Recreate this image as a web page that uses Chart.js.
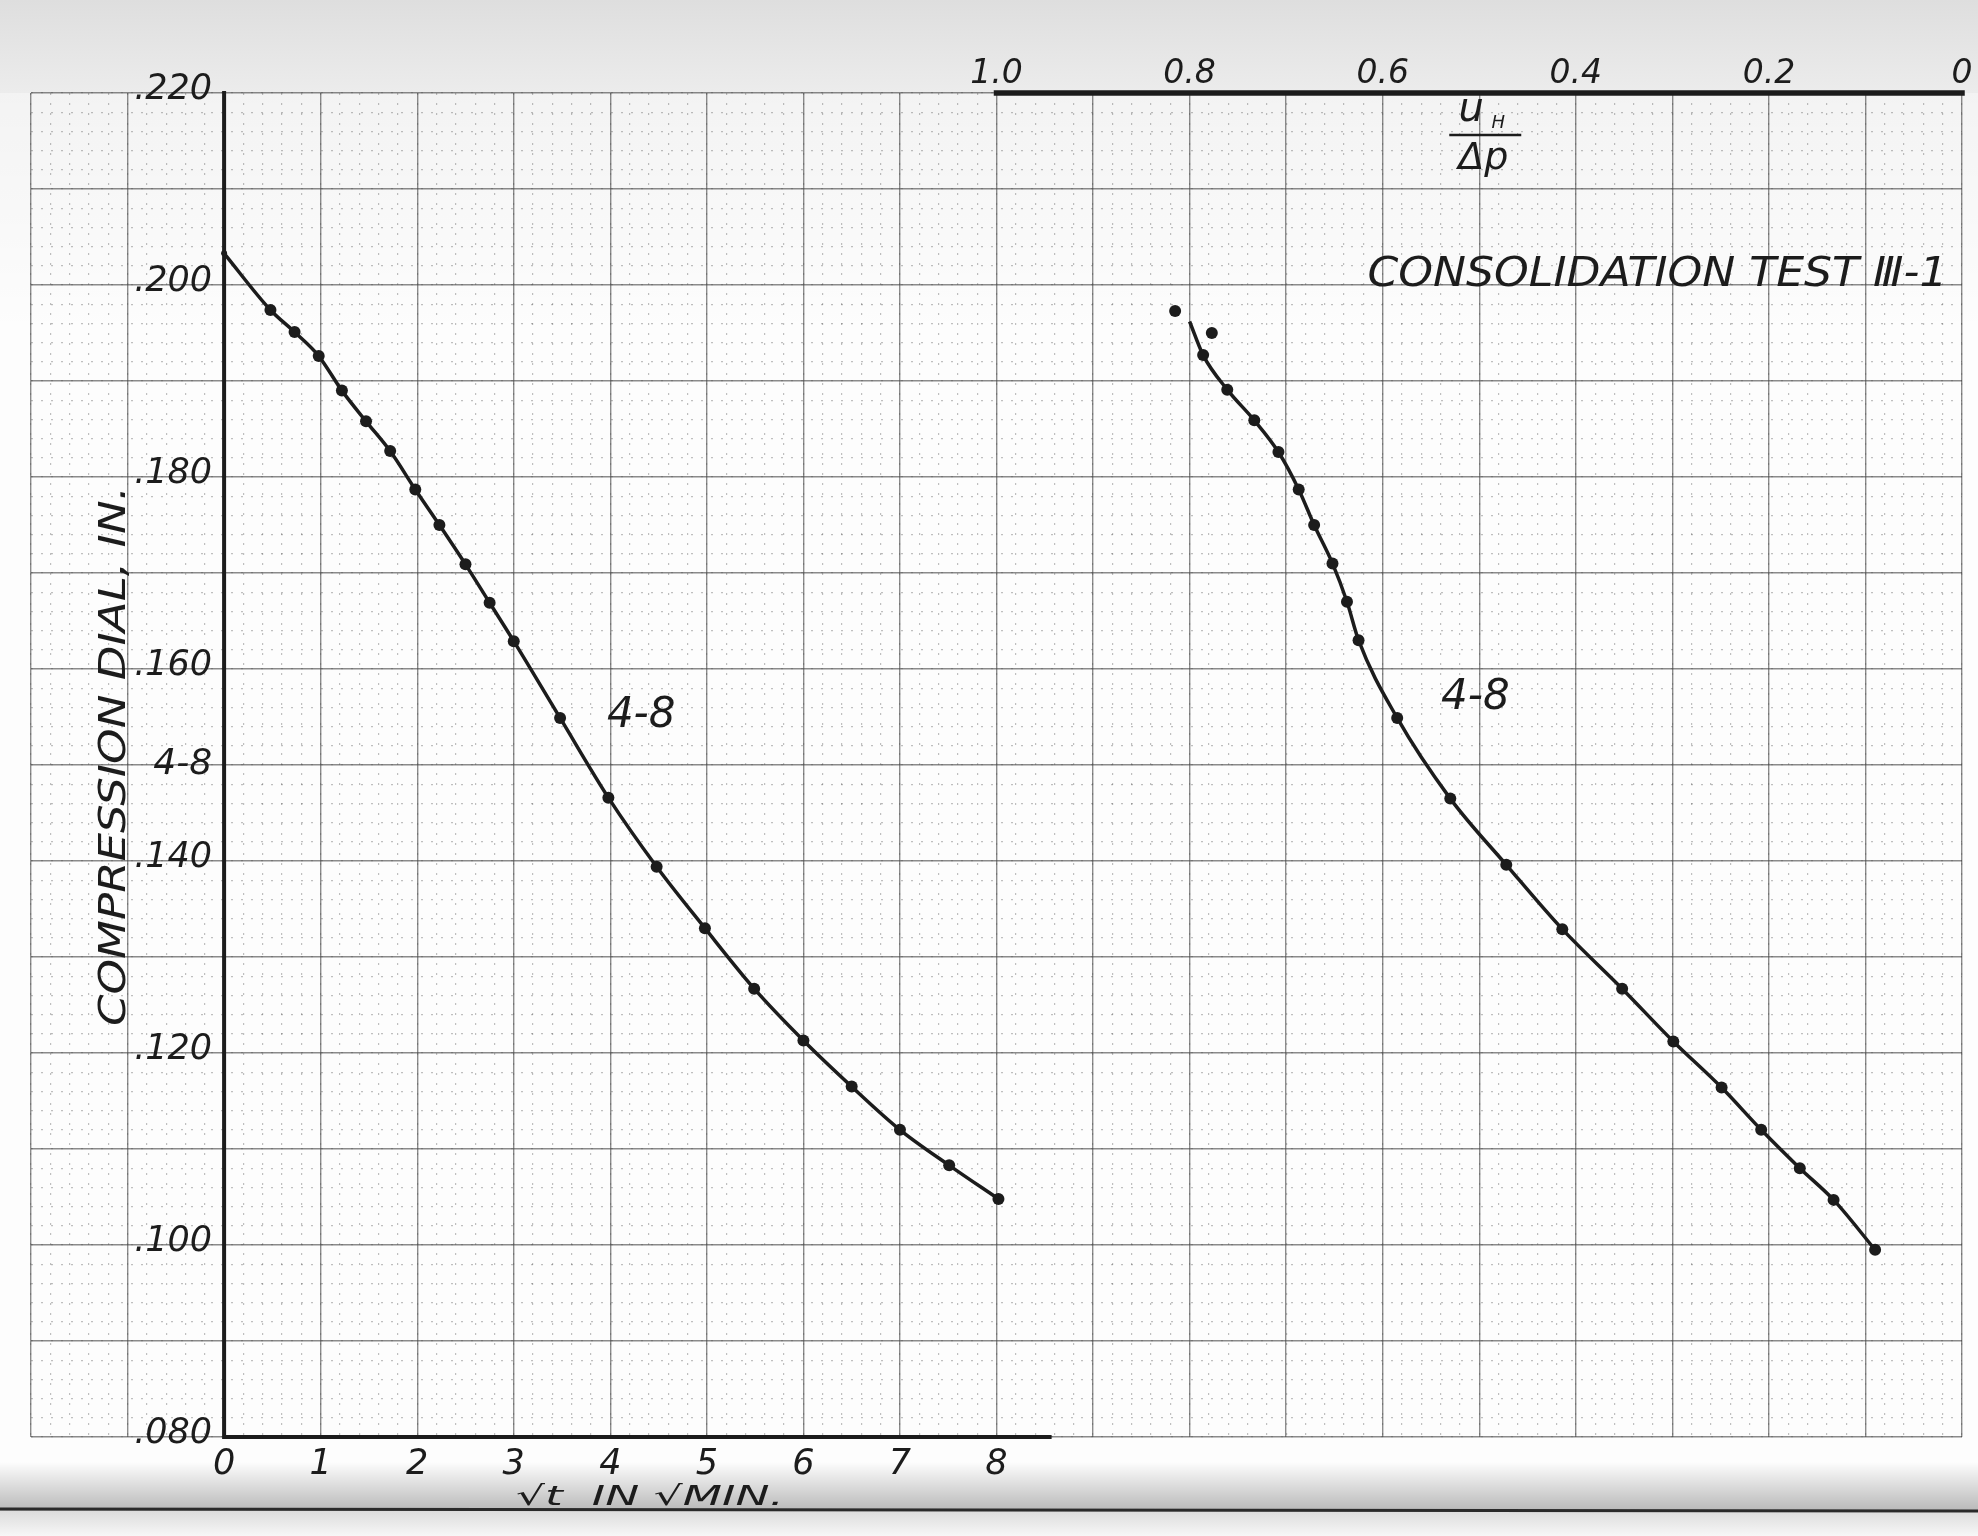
<!DOCTYPE html>
<html>
<head>
<meta charset="utf-8">
<title>Consolidation Test III-1</title>
<script src="https://cdn.jsdelivr.net/npm/chart.js@4.4.1/dist/chart.umd.min.js"></script>
<style>
  html, body { margin: 0; padding: 0; background: #fff; }
  canvas { display: block; }
</style>
</head>
<body>
<canvas id="consolidationChart" width="1978" height="1536"></canvas>
<script>
// dial readings against root time (left curve)
const sqrtTime = [0, 0.48, 0.73, 0.98, 1.22, 1.47, 1.72, 1.98, 2.23, 2.50, 2.75, 3.00,
  3.48, 3.98, 4.48, 4.98, 5.49, 6.00, 6.50, 7.00, 7.51, 8.02];
const dialByTime = [0.2033, 0.1974, 0.1951, 0.1926, 0.1890, 0.1858, 0.1827, 0.1787, 0.1750, 0.1709, 0.1669, 0.1629,
  0.1549, 0.1466, 0.1394, 0.1330, 0.1267, 0.1213, 0.1165, 0.1120, 0.1083, 0.1048];

// same readings against pore pressure ratio uH / dp (right curve)
const poreRatio = [0.800, 0.786, 0.761, 0.733, 0.708, 0.687, 0.671, 0.652, 0.637, 0.625,
  0.585, 0.530, 0.472, 0.414, 0.352, 0.299, 0.249, 0.208, 0.168, 0.133, 0.090];
const dialByPore = [0.1962, 0.1927, 0.1891, 0.1859, 0.1826, 0.1787, 0.1750, 0.1710, 0.1670, 0.1630,
  0.1549, 0.1465, 0.1396, 0.1329, 0.1267, 0.1212, 0.1164, 0.1120, 0.1080, 0.1047, 0.0995];

// first two readings, plotted off the curve
const poreRatioOff = [0.815, 0.777];
const dialOff = [0.1973, 0.1950];

const timeTicks = [0, 1, 2, 3, 4, 5, 6, 7, 8];
const poreTicks = [1.0, 0.8, 0.6, 0.4, 0.2, 0];
const poreTickLabels = ['1.0', '0.8', '0.6', '0.4', '0.2', '0'];
const dialTicks = [0.22, 0.20, 0.18, 0.16, 0.14, 0.12, 0.10, 0.08];
const dialTickLabels = ['.220', '.200', '.180', '.160', '.140', '.120', '.100', '.080'];

const INK = '#1c1c1c';
const HAND = '"DejaVu Sans", sans-serif';
const EDGE = 1511; // bottom edge of the sheet

const isWhole = (v, step) => Math.abs(v / step - Math.round(v / step)) < 1e-6;

function letter(ctx, text, x, y, size, o = {}) {
  ctx.save();
  ctx.font = `italic ${size}px ${HAND}`;
  ctx.fillStyle = INK;
  ctx.textAlign = o.align || 'center';
  ctx.textBaseline = o.baseline || 'middle';
  ctx.translate(x, y);
  if (o.rotate) ctx.rotate(o.rotate);
  if (o.width) {
    const w = ctx.measureText(text).width;
    ctx.scale(o.width / w, 1);
  }
  ctx.fillText(text, 0, 0);
  ctx.restore();
}

// paper tone, scan shading and the bottom edge of the sheet
const paper = {
  id: 'paper',
  beforeDraw(chart) {
    const { ctx, width, height, chartArea } = chart;
    ctx.save();
    ctx.fillStyle = '#fdfdfd';
    ctx.fillRect(0, 0, width, height);

    let g = ctx.createLinearGradient(0, 0, 0, chartArea.top);
    g.addColorStop(0, '#dedede');
    g.addColorStop(1, '#ececec');
    ctx.fillStyle = g;
    ctx.fillRect(0, 0, width, chartArea.top);

    g = ctx.createLinearGradient(0, chartArea.top, 0, chartArea.top + 240);
    g.addColorStop(0, 'rgba(0,0,0,0.04)');
    g.addColorStop(1, 'rgba(0,0,0,0)');
    ctx.fillStyle = g;
    ctx.fillRect(0, chartArea.top, width, 240);

    g = ctx.createLinearGradient(0, chartArea.bottom + 25, 0, EDGE);
    g.addColorStop(0, 'rgba(0,0,0,0)');
    g.addColorStop(1, 'rgba(0,0,0,0.27)');
    ctx.fillStyle = g;
    ctx.fillRect(0, chartArea.bottom + 25, width, EDGE - chartArea.bottom - 25);

    g = ctx.createLinearGradient(0, EDGE, 0, height);
    g.addColorStop(0, '#dcdcdc');
    g.addColorStop(1, '#f7f7f7');
    ctx.fillStyle = g;
    ctx.fillRect(0, EDGE, width, height - EDGE);

    ctx.strokeStyle = '#2a2a2a';
    ctx.lineWidth = 3;
    ctx.beginPath();
    ctx.moveTo(0, EDGE - 2);
    ctx.lineTo(width, EDGE);
    ctx.stroke();
    ctx.restore();
  }
};

// heavy axis lines plus all hand lettering
const lettering = {
  id: 'lettering',
  afterDatasetsDraw(chart) {
    const { ctx } = chart;
    const x = chart.scales.x, y = chart.scales.y, xt = chart.scales.xTop;
    const x0 = x.getPixelForValue(0);
    const yTop = y.getPixelForValue(0.22), yBot = y.getPixelForValue(0.08);

    ctx.save();
    ctx.strokeStyle = INK;
    ctx.lineCap = 'square';
    ctx.lineWidth = 4;
    ctx.beginPath();
    ctx.moveTo(x0, yTop);
    ctx.lineTo(x0, yBot);
    ctx.lineTo(x.getPixelForValue(8.55), yBot);
    ctx.stroke();
    ctx.lineWidth = 5.5;
    ctx.beginPath();
    ctx.moveTo(xt.getPixelForValue(1.0), yTop);
    ctx.lineTo(xt.getPixelForValue(0), yTop);
    ctx.stroke();
    ctx.restore();

    dialTicks.forEach((v, i) => {
      letter(ctx, dialTickLabels[i], x0 - 12, y.getPixelForValue(v) - 3, 35, { align: 'right' });
    });
    letter(ctx, '4-8', x0 - 12, y.getPixelForValue(0.150), 36, { align: 'right' });

    timeTicks.forEach(v => {
      letter(ctx, String(v), x.getPixelForValue(v), yBot + 28, 35);
    });
    poreTicks.forEach((v, i) => {
      letter(ctx, poreTickLabels[i], xt.getPixelForValue(v), yTop - 19, 33);
    });

    // uH / dp fraction over the right plot
    const fx = xt.getPixelForValue(0.5) + 6;
    letter(ctx, 'u', fx - 14, yTop + 28, 40, { baseline: 'alphabetic' });
    letter(ctx, 'H', fx + 13, yTop + 35, 18, { baseline: 'alphabetic' });
    ctx.save();
    ctx.strokeStyle = INK;
    ctx.lineWidth = 2.5;
    ctx.beginPath();
    ctx.moveTo(fx - 36, yTop + 42);
    ctx.lineTo(fx + 36, yTop + 42);
    ctx.stroke();
    ctx.restore();
    letter(ctx, 'Δp', fx - 2, yTop + 66, 38);

    letter(ctx, 'CONSOLIDATION TEST Ⅲ-1', x.getPixelForValue(17.85), y.getPixelForValue(0.2010), 41,
      { align: 'right', width: 580 });
    letter(ctx, 'COMPRESSION DIAL, IN.', 115, 756, 37, { rotate: -Math.PI / 2, width: 540 });
    letter(ctx, '4-8', x.getPixelForValue(4.32), y.getPixelForValue(0.1551), 42);
    letter(ctx, '4-8', xt.getPixelForValue(0.504), y.getPixelForValue(0.1570), 42);
    letter(ctx, '√t  IN √MIN.', 650, EDGE - 6, 27, { baseline: 'alphabetic', width: 268 });
  }
};

const ctx = document.getElementById('consolidationChart').getContext('2d');

const curveStyle = {
  showLine: true,
  borderColor: INK,
  borderWidth: 3.5,
  cubicInterpolationMode: 'monotone',
  pointBackgroundColor: INK,
  pointBorderWidth: 0,
  pointRadius: 6
};

new Chart(ctx, {
  type: 'scatter',
  data: {
    datasets: [
      {
        ...curveStyle,
        label: 'Dial vs root time',
        data: sqrtTime.map((t, i) => ({ x: t, y: dialByTime[i] })),
        pointRadius: sqrtTime.map((t, i) => (i === 0 ? 3 : 6))
      },
      {
        ...curveStyle,
        label: 'Dial vs uH/dp',
        xAxisID: 'xTop',
        data: poreRatio.map((u, i) => ({ x: u, y: dialByPore[i] })),
        pointRadius: poreRatio.map((u, i) => (i === 0 ? 0 : 6))
      },
      {
        label: 'Early readings',
        xAxisID: 'xTop',
        showLine: false,
        data: poreRatioOff.map((u, i) => ({ x: u, y: dialOff[i] })),
        pointBackgroundColor: INK,
        pointBorderWidth: 0,
        pointRadius: 6
      }
    ]
  },
  options: {
    responsive: false,
    animation: false,
    devicePixelRatio: 1,
    layout: { padding: { left: 31, right: 16, top: 93, bottom: 99 } },
    plugins: { legend: { display: false }, tooltip: { enabled: false } },
    scales: {
      // fine rulings every 0.2 division, dotted
      x: {
        type: 'linear', axis: 'x', min: -2, max: 18,
        ticks: { display: false, stepSize: 0.2 },
        grid: { drawTicks: false, lineWidth: 1.2, color: 'rgba(90,90,90,0.38)' },
        border: { display: false, dash: [2, 8] }
      },
      y: {
        type: 'linear', axis: 'y', min: 0.08, max: 0.22,
        ticks: { display: false, stepSize: 0.002 },
        grid: { drawTicks: false, lineWidth: 1.2, color: 'rgba(90,90,90,0.38)' },
        border: { display: false, dash: [2, 8] }
      },
      // main rulings every whole division
      xMajor: {
        type: 'linear', axis: 'x', min: -2, max: 18,
        ticks: { display: false, stepSize: 1 },
        grid: { drawTicks: false, lineWidth: 1.4, color: 'rgba(70,70,70,0.62)' },
        border: { display: false }
      },
      yMajor: {
        type: 'linear', axis: 'y', min: 0.08, max: 0.22,
        ticks: { display: false, stepSize: 0.01 },
        grid: {
          drawTicks: false, lineWidth: 1.4,
          color: c => (isWhole(c.tick.value, 0.01) ? 'rgba(70,70,70,0.62)' : 'rgba(0,0,0,0)')
        },
        border: { display: false }
      },
      // uH / dp runs right to left, 1.0 at root time 8, 0 at the right edge
      xTop: {
        type: 'linear', axis: 'x', min: 0, max: 2, reverse: true,
        display: false
      }
    }
  },
  plugins: [paper, lettering]
});
</script>
</body>
</html>
